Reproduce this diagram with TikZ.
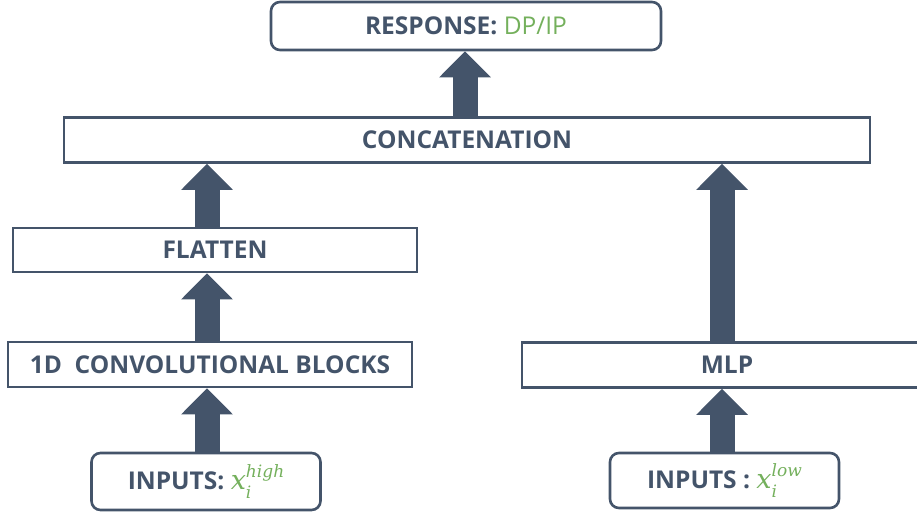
\documentclass[tikz,border=0pt]{standalone}
\usepackage{fontspec}
\setmainfont{Open Sans}
\newfontfamily\mvarfont{DejaVu Serif}
\usetikzlibrary{arrows.meta,calc}
\definecolor{slate}{HTML}{44546A}
\definecolor{leaf}{HTML}{74B05C}
\newcommand{\xvar}[1]{{\fontsize{27}{27}\selectfont\mvarfont\mdseries\itshape x}\makebox[0pt][l]{\raisebox{-0.34em}{\fontsize{17}{17}\selectfont\mvarfont\mdseries\itshape i}}\raisebox{0.5em}{\fontsize{17}{17}\selectfont\mvarfont\mdseries\itshape #1}}
\tikzset{
  box/.style={draw=slate, line width=2.6pt, fill=white, minimum height=#1, inner sep=0pt,
              font=\fontsize{24.5}{28}\selectfont\bfseries, text=slate},
  box/.default=45pt,
  rbox/.style={box=#1, rounded corners=9pt},
  rbox/.default=48pt,
  blockarrow/.style={draw=slate, line width=25pt,
     -{Triangle[length=26pt,width=50pt]}}
}
\begin{document}
\begin{tikzpicture}[x=1pt,y=-1pt]
\useasboundingbox (0,0) rectangle (917,514);
\node[rbox=48pt, minimum width=390pt] (resp) at (466,26) {RESPONSE: \textcolor{leaf}{\mdseries DP/IP}};
\node[box=45pt, minimum width=806pt] (concat) at (467,140) {CONCATENATION};
\node[box=44pt, minimum width=404pt] (flat) at (215,250) {FLATTEN};
\node[box=45pt, minimum width=404pt] (conv) at (210,364.5) {1D\ \ CONVOLUTIONAL BLOCKS};
\node[box=45pt, minimum width=410pt] (mlp) at (727,365) {MLP};
\node[rbox=57pt, minimum width=229pt] (inhigh) at (206,481.5) {INPUTS: \textcolor{leaf}{\xvar{high}}};
\node[rbox=55pt, minimum width=229pt] (inlow) at (724.5,480.5) {INPUTS : \textcolor{leaf}{\xvar{low}}};
\coordinate (lx) at (207,0);
\coordinate (rx) at (722,0);
\coordinate (tx) at (465,0);
\draw[blockarrow] (lx |- inhigh.north) -- (lx |- conv.south);
\draw[blockarrow] (lx |- conv.north) -- (lx |- flat.south);
\draw[blockarrow] (lx |- flat.north) -- (lx |- concat.south);
\draw[blockarrow] (rx |- inlow.north) -- (rx |- mlp.south);
\draw[blockarrow] (rx |- mlp.north) -- (rx |- concat.south);
\draw[blockarrow] (tx |- concat.north) -- (tx |- resp.south);
\end{tikzpicture}
\end{document}
